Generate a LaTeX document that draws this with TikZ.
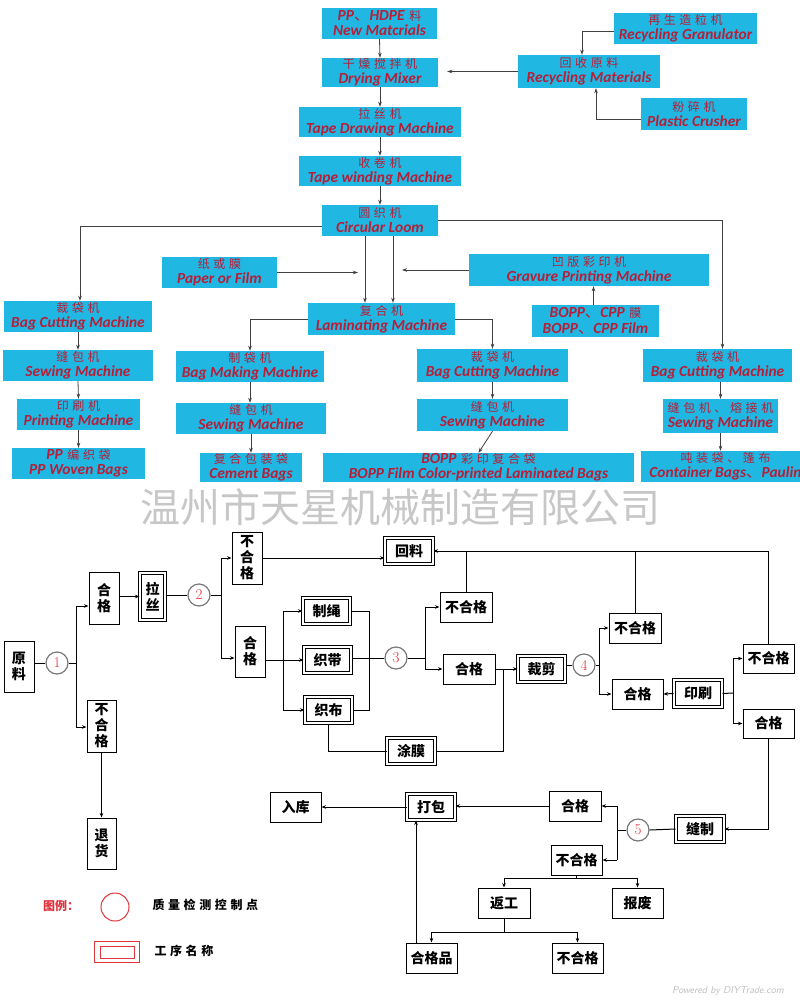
\documentclass[tikz,border=0pt]{standalone}
\usepackage{fontspec}
\usetikzlibrary{arrows.meta,calc}
\newfontfamily\zhf{Noto Sans CJK SC}
\newfontfamily\zhs{Noto Sans CJK SC}[LetterSpace=30]
\newfontfamily\enf{Carlito}
\definecolor{cy}{RGB}{32,184,226}
\definecolor{tr}{RGB}{184,30,56}
\definecolor{lr}{RGB}{222,52,62}
\definecolor{cg}{RGB}{120,120,120}
\newcommand\mybox[7][]{\node[#1,minimum width={(#5-#3)*1pt},minimum height={(#6-#4)*1pt}] (#2) at ({(#3+#5)/2},{(#4+#6)/2}) {#7};}
\newcommand\ebi{\enf\bfseries\itshape}
\newcommand\zcs{\zhs\fontsize{12}{15}\selectfont}
\newcommand\twol[2]{{\zcs #1}\\{\ebi #2}}
\tikzset{
 cbox/.style={fill=cy, inner sep=0pt, align=center, text=tr, font=\fontsize{15.4}{15}\selectfont},
 tarr/.style={draw=black!75, line width=0.8pt, -{Stealth[length=5pt,width=3.5pt]}},
 qbox/.style={draw=black, line width=1pt, fill=white, inner sep=0pt, align=center, font=\zhf\bfseries\fontsize{14}{16}\selectfont},
 pbox/.style={qbox, double, double distance=1.8pt},
 qc/.style={circle, draw=cg, line width=1.2pt, fill=white, minimum size=22pt, inner sep=0pt, text=lr, font=\fontsize{15}{15}\selectfont},
 barr/.style={draw=black, line width=1pt, -{Stealth[length=4.5pt,width=3.5pt]}},
 bln/.style={draw=black, line width=1pt},
}
\begin{document}
\begin{tikzpicture}[x=1pt,y=-1pt]
\path[use as bounding box, fill=white] (0,0) rectangle (800,1004);
% ---------- top part ----------
\mybox[cbox]{n1}{322}{8}{437}{39}{{\ebi PP}{\zhf 、}{\ebi HDPE} {\zcs 料}\\{\ebi New Matcrials}}
\mybox[cbox]{n2}{322}{58}{438}{87}{\twol{干燥搅拌机}{Drying Mixer}}
\mybox[cbox]{n3}{299}{107}{461}{137}{\twol{拉丝机}{Tape Drawing Machine}}
\mybox[cbox]{n4}{299}{156}{461}{186}{\twol{收卷机}{Tape winding Machine}}
\mybox[cbox]{n5}{322}{205}{438}{236}{\twol{圆织机}{Circular Loom}}
\mybox[cbox]{n6}{518}{55}{660}{88}{\twol{回收原料}{Recycling Materials}}
\mybox[cbox]{n7}{614}{13}{757}{44}{\twol{再生造粒机}{Recycling Granulator}}
\mybox[cbox]{n8}{641}{98}{747}{130}{\twol{粉碎机}{Plastic Crusher}}
\mybox[cbox]{pf}{162}{257}{277}{288}{\twol{纸或膜}{Paper or Film}}
\mybox[cbox]{gv}{469}{254}{709}{286}{\twol{凹版彩印机}{Gravure Printing Machine}}
\mybox[cbox]{lm}{308}{303}{455}{335}{\twol{复合机}{Laminating Machine}}
\mybox[cbox]{bf2}{532}{305}{659}{337}{{\ebi BOPP}{\zhf 、}{\ebi CPP} {\zcs 膜}\\[1.5pt]{\ebi BOPP}{\zhf 、}{\ebi CPP Film}}
\mybox[cbox]{a1}{4}{301}{152}{332}{\twol{裁袋机}{Bag Cutting Machine}}
\mybox[cbox]{a2}{3}{350}{153}{381}{\twol{缝包机}{Sewing Machine}}
\mybox[cbox]{a3}{17}{399}{140}{430}{\twol{印刷机}{Printing Machine}}
\mybox[cbox]{a4}{12}{448}{145}{479}{{\ebi PP} {\zcs 编织袋}\\{\ebi PP Woven Bags}}
\mybox[cbox]{b1}{176}{351}{324}{382}{\twol{制袋机}{Bag Making Machine}}
\mybox[cbox]{b2}{176}{403}{326}{434}{\twol{缝包机}{Sewing Machine}}
\mybox[cbox]{b3}{200}{453}{302}{482}{\twol{复合包装袋}{Cement Bags}}
\mybox[cbox]{c1}{417}{349}{568}{382}{\twol{裁袋机}{Bag Cutting Machine}}
\mybox[cbox]{c2}{417}{399}{568}{431}{\twol{缝包机}{Sewing Machine}}
\mybox[cbox]{c3}{323}{453}{634}{482}{{\ebi BOPP} {\zcs 彩印复合袋}\\{\ebi BOPP Film Color-printed Laminated Bags}}
\mybox[cbox]{d1}{643}{349}{792}{382}{\twol{裁袋机}{Bag Cutting Machine}}
\mybox[cbox]{d2}{663}{399}{778}{433}{\twol{缝包机、熔接机}{Sewing Machine}}
\mybox[cbox]{d3}{641}{451}{810}{482}{{\zcs 吨装袋、篷布}\\{\ebi Container Bags}{\zhf 、}{\ebi Paulin}}
% top connectors
\draw[tarr] (n1.south) -- (n2.north);
\draw[tarr] (n2.south) -- (n3.north);
\draw[tarr] (n3.south) -- (n4.north);
\draw[tarr] (n4.south) -- (n5.north);
\draw[tarr, shorten >=9pt] (n6.west) -- (n6.west -| n2.east);
\draw[tarr] ([yshift=-3pt]n7.west) -| ([xshift=-7pt]n6.north);
\draw[tarr] ([yshift=-5pt]n8.west) -| ([xshift=7pt]n6.south);
\draw[tarr] ([yshift=-6pt]n5.west) -| ([xshift=2pt]a1.north);
\draw[tarr] (n5.east) -| ([xshift=5pt]d1.north);
\draw[tarr] ([xshift=-15pt]n5.south) -- ([xshift=-15pt]n5.south |- lm.north);
\draw[tarr] ([xshift=13pt]n5.south) -- ([xshift=13pt]n5.south |- lm.north);
\draw[tarr] (pf.east) -- ([xshift=-23.5pt]lm.north |- pf.east);
\draw[tarr] (gv.west) -- ([xshift=20.5pt]lm.north |- gv.west);
\draw[tarr] ([xshift=-2pt]bf2.north) -- ([xshift=-2pt]bf2.north |- gv.south);
\draw[tarr] (lm.west) -| (b1.north);
\draw[tarr] (lm.east) -| (c1.north);
\draw[tarr] (a1.south) -- (a2.north);
\draw[tarr] (a2.south) -- (a3.north);
\draw[tarr] (a3.south) -- (a4.north);
\draw[tarr] (b1.south) -- (b1.south |- b2.north);
\draw[tarr] (b2.south) -- (b2.south |- b3.north);
\draw[tarr] (c1.south) -- (c2.north);
\draw[tarr] (c2.south) -- (c3.north);
\draw[tarr] (d2.north |- d1.south) -- (d2.north);
\draw[tarr] (d2.south) -- (d2.south |- d3.north);
% watermark
\node[text=black!22, font=\zhf\fontsize{40}{40}\selectfont] (wm) at (400,507) {温州市天星机械制造有限公司};
% ---------- bottom flowchart ----------
\mybox[qbox]{yl}{4}{641}{34}{692}{原\\料}
\node[qc] (q1) at (57,663) {1};
\mybox[qbox]{hg1}{89}{572}{119}{624}{合\\格}
\mybox[qbox]{bh1}{87}{700}{116}{752}{不\\合\\格}
\mybox[qbox]{th}{87}{818}{116}{869}{退\\货}
\mybox[pbox]{ls}{140}{573}{165}{620}{拉\\丝}
\node[qc] (q2) at (199,595) {2};
\mybox[qbox]{bh2}{232}{532}{262}{584}{不\\合\\格}
\mybox[qbox]{hg2}{235}{626}{265}{677}{合\\格}
\mybox[pbox]{hl}{385}{538}{433}{564}{回料}
\mybox[pbox]{zs}{303}{598}{350}{624}{制绳}
\mybox[pbox]{zd}{304}{647}{351}{673}{织带}
\mybox[pbox]{zb}{305}{697}{352}{723}{织布}
\node[qc] (q3) at (396,658) {3};
\mybox[qbox]{bh3}{440}{592}{492}{622}{不合格}
\mybox[qbox]{hg3}{443}{654}{495}{684}{合格}
\mybox[pbox]{cj}{518}{656}{565}{682}{裁剪}
\mybox[pbox]{tm}{387}{738}{435}{764}{涂膜}
\node[qc] (q4) at (584,665) {4};
\mybox[qbox]{bh4}{609}{613}{661}{643}{不合格}
\mybox[qbox]{hg4}{612}{679}{663}{709}{合格}
\mybox[pbox]{ys}{674}{680}{722}{707}{印刷}
\mybox[qbox]{bh5}{743}{644}{794}{673}{不合格}
\mybox[qbox]{hg5}{743}{709}{794}{738}{合格}
\mybox[pbox]{fz}{676}{816}{724}{842}{缝制}
\node[qc] (q5) at (638,830) {5};
\mybox[qbox]{hg6}{549}{791}{601}{821}{合格}
\mybox[qbox]{bh6}{551}{845}{602}{875}{不合格}
\mybox[pbox]{db}{407}{794}{455}{820}{打包}
\mybox[qbox]{rk}{270}{792}{321}{822}{入库}
\mybox[qbox]{fg}{478}{888}{530}{918}{返工}
\mybox[qbox]{bf}{612}{888}{663}{918}{报废}
\mybox[qbox]{hgp}{406}{943}{457}{973}{合格品}
\mybox[qbox]{bh7}{552}{943}{603}{973}{不合格}
% junction coordinates
\coordinate (j1) at (76,663);
\coordinate (j1a) at (76,606);
\coordinate (j1b) at (76,727);
\coordinate (j2) at (221,595);
\coordinate (j2b) at (221,658);
\coordinate (j3) at (283,660);
\coordinate (j4) at (369,660);
\coordinate (j5) at (425,658);
\coordinate (j6) at (503,669);
\coordinate (j7) at (599,665);
\coordinate (j8) at (733,693);
\coordinate (j9) at (617,830);
\coordinate (j10) at (576,878);
\coordinate (j11) at (416,900);
\coordinate (j12) at (504,932);
% bottom connectors
\draw[bln] (q1.west -| yl.east) -- (q1.west);
\draw[bln] (q1.east) -- (j1);
\draw[bln] (j1a) -- (j1b);
\draw[barr] (j1a) -- (j1a -| hg1.west);
\draw[barr] (j1b) -- (j1b -| bh1.west);
\draw[barr] (bh1.south) -- (th.north);
\draw[barr] (ls.west -| hg1.east) -- (ls.west);
\draw[bln] (q2.west -| ls.east) -- (q2.west);
\draw[bln] (q2.east) -- (j2);
\draw[bln] (j2 |- bh2.west) -- (j2b);
\draw[barr] (j2 |- bh2.west) -- (bh2.west);
\draw[barr] (j2b) -- (j2b -| hg2.west);
\draw[barr] (bh2.east) -- (bh2.east -| hl.west);
\draw[barr] (zd.west -| hg2.east) -- (zd.west);
\draw[bln] (j3 |- zs.west) -- (j3 |- zb.west);
\draw[barr] (j3 |- zs.west) -- (zs.west);
\draw[barr] (j3 |- zb.west) -- (zb.west);
\draw[bln] (zs.east) -- (zs.east -| j4) -- (zb.east -| j4) -- (zb.east);
\draw[bln] (q3.west -| zd.east) -- (q3.west);
\draw[bln] (q3.east) -- (j5);
\draw[bln] (j5 |- bh3.west) -- (j5 |- hg3.west);
\draw[barr] (j5 |- bh3.west) -- (bh3.west);
\draw[barr] (j5 |- hg3.west) -- (hg3.west);
\draw[barr] (hg3.east) -- (cj.west);
\draw[bln] (j6) -- (j6 |- tm.east) -- (tm.east);
\draw[bln] (zb.south) |- (tm.west);
\draw[bln] (q4.west -| cj.east) -- (q4.west);
\draw[bln] (q4.east) -- (j7);
\draw[bln] (j7 |- bh4.west) -- (j7 |- hg4.west);
\draw[barr] (j7 |- bh4.west) -- (bh4.west);
\draw[barr] (j7 |- hg4.west) -- (hg4.west);
\draw[barr] (ys.west) -- (hg4.east);
\draw[bln] (ys.east) -- (j8);
\draw[bln] (j8 |- bh5.west) -- (j8 |- hg5.west);
\draw[barr] (j8 |- bh5.west) -- (bh5.west);
\draw[barr] (j8 |- hg5.west) -- (hg5.west);
\draw[barr] (bh5.north) |- (hl.east);
\draw[bln] (bh3.north) -- (bh3.north |- hl.east);
\draw[bln] (bh4.north) -- (bh4.north |- hl.east);
\draw[barr] (hg5.south) |- (fz.east);
\draw[bln] (fz.west) -- (q5.east);
\draw[bln] (q5.west) -- (j9);
\draw[bln] (j9 |- hg6.east) -- (j9 |- bh6.east);
\draw[barr] (j9 |- hg6.east) -- (hg6.east);
\draw[barr] (j9 |- bh6.east) -- (bh6.east);
\draw[barr] (hg6.west) -- (hg6.west -| db.east);
\draw[barr] (db.west) -- (db.west -| rk.east);
\draw[bln] (bh6.south) -- (bh6.south |- j10);
\draw[bln] (fg.north |- j10) -- (bf.north |- j10);
\draw[barr] (fg.north |- j10) -- (fg.north);
\draw[barr] (bf.north |- j10) -- (bf.north);
\draw[bln] (fg.south) -- (fg.south |- j12);
\draw[bln] (hgp.north |- j12) -- (bh7.north |- j12);
\draw[barr] (hgp.north |- j12) -- (hgp.north);
\draw[barr] (bh7.north |- j12) -- (bh7.north);
\draw[barr] (j11 |- hgp.north) -- (j11 |- db.south);
% legend
\node[text=lr, font=\zhf\bfseries\fontsize{12}{12}\selectfont] (lg) at (61,906) {图例：};
\node[circle, draw=lr, line width=1pt, minimum size=28pt, inner sep=0pt] (lgc) at (115,907) {};
\node[anchor=west, font=\zhs\bfseries\fontsize{12}{12}\selectfont] (lgt1) at (149,905) {质量检测控制点};
\node[draw=lr, line width=1pt, minimum width=45pt, minimum height=21pt, inner sep=0pt] (lgr) at (116.5,951.5) {};
\node[draw=lr, line width=1pt, minimum width=34pt, minimum height=12pt, inner sep=0pt] (lgr2) at (117,952) {};
\node[anchor=west, font=\zhs\bfseries\fontsize{12}{12}\selectfont] (lgt2) at (151,951) {工序名称};
\node[text=black!25, font=\sffamily\itshape\fontsize{10}{10}\selectfont] (pw) at (728,991) {Powered by DIYTrade.com};
\end{tikzpicture}
\end{document}
